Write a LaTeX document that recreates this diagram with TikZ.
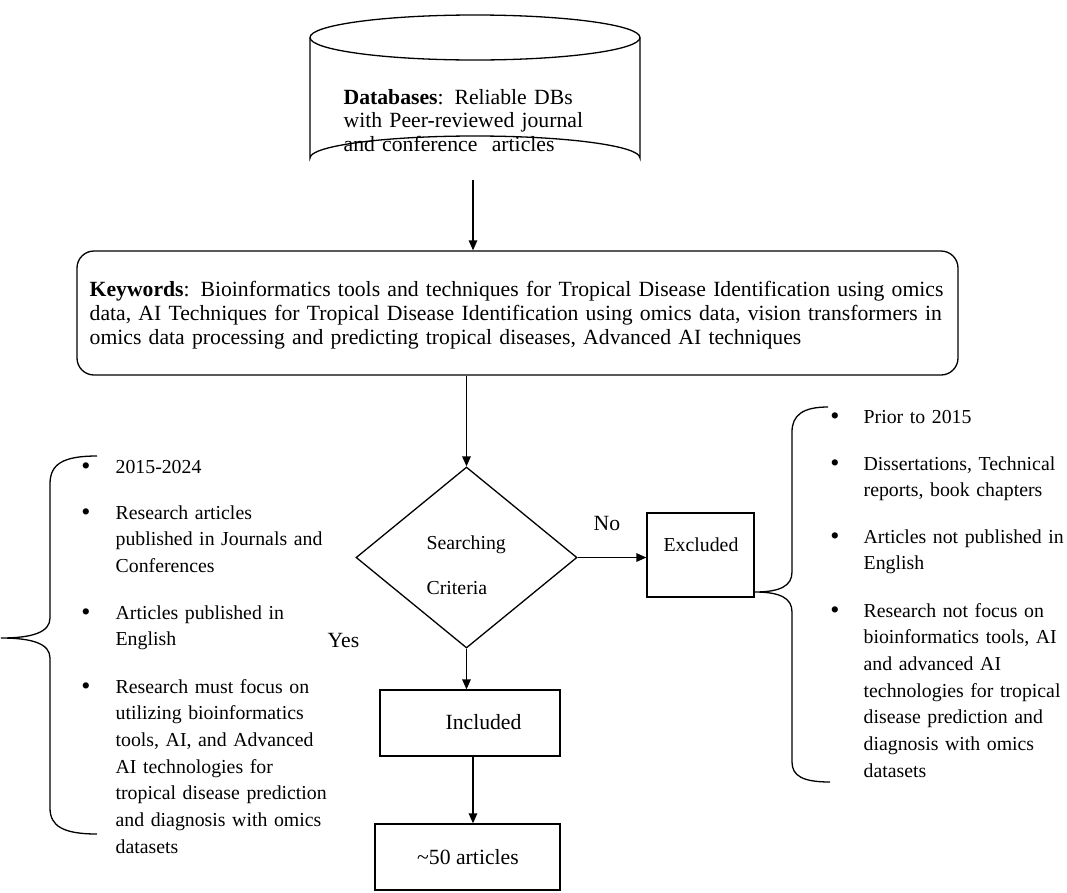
\documentclass[tikz,border=0pt]{standalone}
\usepackage{fontspec}
\setmainfont{Liberation Serif}
\usetikzlibrary{arrows.meta,shapes.geometric}
\newcommand\fbig{\fontsize{21.7}{23.5}\selectfont}
\newcommand\flist{\fontsize{19.8}{26.7}\selectfont}
\begin{document}
\begin{tikzpicture}[x=1pt,y=-1pt,
  line width=1.3pt,
  arr/.style={-{Triangle[length=10pt,width=8.5pt]},line width=1.4pt},
  box/.style={draw,line width=1.3pt,inner sep=0pt,rectangle},
  txt/.style={inner sep=0pt,anchor=base west},
  ctxt/.style={inner sep=0pt,anchor=base},
  lst/.style={txt,text width=300pt,align=left,font=\flist},
  bul/.style={inner sep=0pt,anchor=base,font=\fontsize{26}{26}\selectfont},
  brace/.style={line width=1.3pt}]
\useasboundingbox[fill=white] (0,0) rectangle (1067,892);

% cylinder
\draw (475,37.5) ellipse [x radius=165, y radius=22.5];
\draw (310,37.5) -- (310,158) arc[start angle=180,end angle=360,x radius=165,y radius=22] -- (640,37.5);
\coordinate (dbbot) at (473,180);
\node[txt,text width=300pt,align=left,font=\fbig] (dbtext) at (343,104) {\textbf{Databases}: Reliable DBs\\with Peer-reviewed journal\\and conference\ \ articles};

% keywords box
\node[box,rounded corners=17pt,minimum width=881pt,minimum height=124pt] (kw) at (517.5,313) {};
\node[txt,text width=870pt,align=left,font=\fontsize{21.7}{24.2}\selectfont] (kwtext) at (89,296) {\textbf{Keywords}: Bioinformatics tools and techniques for Tropical Disease Identification using omics\\data, AI Techniques for Tropical Disease Identification using omics data, vision transformers in\\omics data processing and predicting tropical diseases, Advanced AI techniques};
\draw[arr] (dbbot) -- (dbbot |- kw.north);

% decision
\node[draw,diamond,line width=1.3pt,inner sep=0pt,minimum width=221pt,minimum height=181pt] (crit) at (466.5,557.5) {};
\node[txt,font=\flist] (crit1) at (426,549) {Searching};
\node[txt,font=\flist] (crit2) at (426,594) {Criteria};
\draw[arr] (crit.north |- kw.south) -- (crit.north);

% excluded
\node[box,minimum width=107pt,minimum height=84pt] (exc) at (700.5,555) {};
\node[ctxt,font=\flist] (exctext) at (701,551) {Excluded};
\draw[arr] (crit.east) -- (exc.west |- crit.east);
\node[ctxt,font=\fbig] (no) at (607,530) {No};

% included
\node[box,minimum width=180pt,minimum height=66pt] (inc) at (470,723) {};
\node[ctxt,font=\fbig] (inctext) at (483.5,729) {Included};
\draw[arr] (crit.south) -- (crit.south |- inc.north);
\node[txt,font=\fbig] (yes) at (327,647) {Yes};

% ~50 articles
\node[box,minimum width=185pt,minimum height=66pt] (art) at (467.5,857) {};
\node[ctxt,font=\fbig] (arttext) at (468,864) {\textasciitilde50 articles};
\coordinate (incout) at (473,756);
\draw[arr] (incout) -- (incout |- art.north);

% left list
\node[bul] (lb1) at (86,474) {\textbullet};
\node[lst] (l1) at (115,473) {2015-2024};
\node[bul] (lb2) at (86,520) {\textbullet};
\node[lst] (l2) at (115,519) {Research articles\\published in Journals and\\Conferences};
\node[bul] (lb3) at (86,620) {\textbullet};
\node[lst] (l3) at (115,619) {Articles published in\\English};
\node[bul] (lb4) at (86,694) {\textbullet};
\node[lst] (l4) at (115,693) {Research must focus on\\utilizing bioinformatics\\tools, AI, and Advanced\\AI technologies for\\tropical disease prediction\\and diagnosis with omics\\datasets};

% left brace
\draw[brace] (97,456) .. controls (63,456) and (50,464) .. (50,484) -- (50,618)
  .. controls (50,632) and (33,638) .. (1,638)
  .. controls (33,638) and (50,644) .. (50,658) -- (50,808)
  .. controls (50,826) and (63,834) .. (97,834);

% right list
\node[bul] (rb1) at (835,424) {\textbullet};
\node[lst] (r1) at (863,423) {Prior to 2015};
\node[bul] (rb2) at (835,471) {\textbullet};
\node[lst] (r2) at (863,470) {Dissertations, Technical\\reports, book chapters};
\node[bul] (rb3) at (835,544) {\textbullet};
\node[lst] (r3) at (863,543) {Articles not published in\\English};
\node[bul] (rb4) at (835,618) {\textbullet};
\node[lst] (r4) at (863,617) {Research not focus on\\bioinformatics tools, AI\\and advanced AI\\technologies for tropical\\disease prediction and\\diagnosis with omics\\datasets};

% right brace
\coordinate (rtip) at (exc.east |- 0,592);
\draw[brace] (828,407) .. controls (803,407) and (792,415) .. (792,432) -- (792,572)
  .. controls (792,586) and (780,592) .. (rtip)
  .. controls (780,592) and (792,598) .. (792,612) -- (792,762)
  .. controls (792,776) and (803,782) .. (830,782);
\end{tikzpicture}
\end{document}
